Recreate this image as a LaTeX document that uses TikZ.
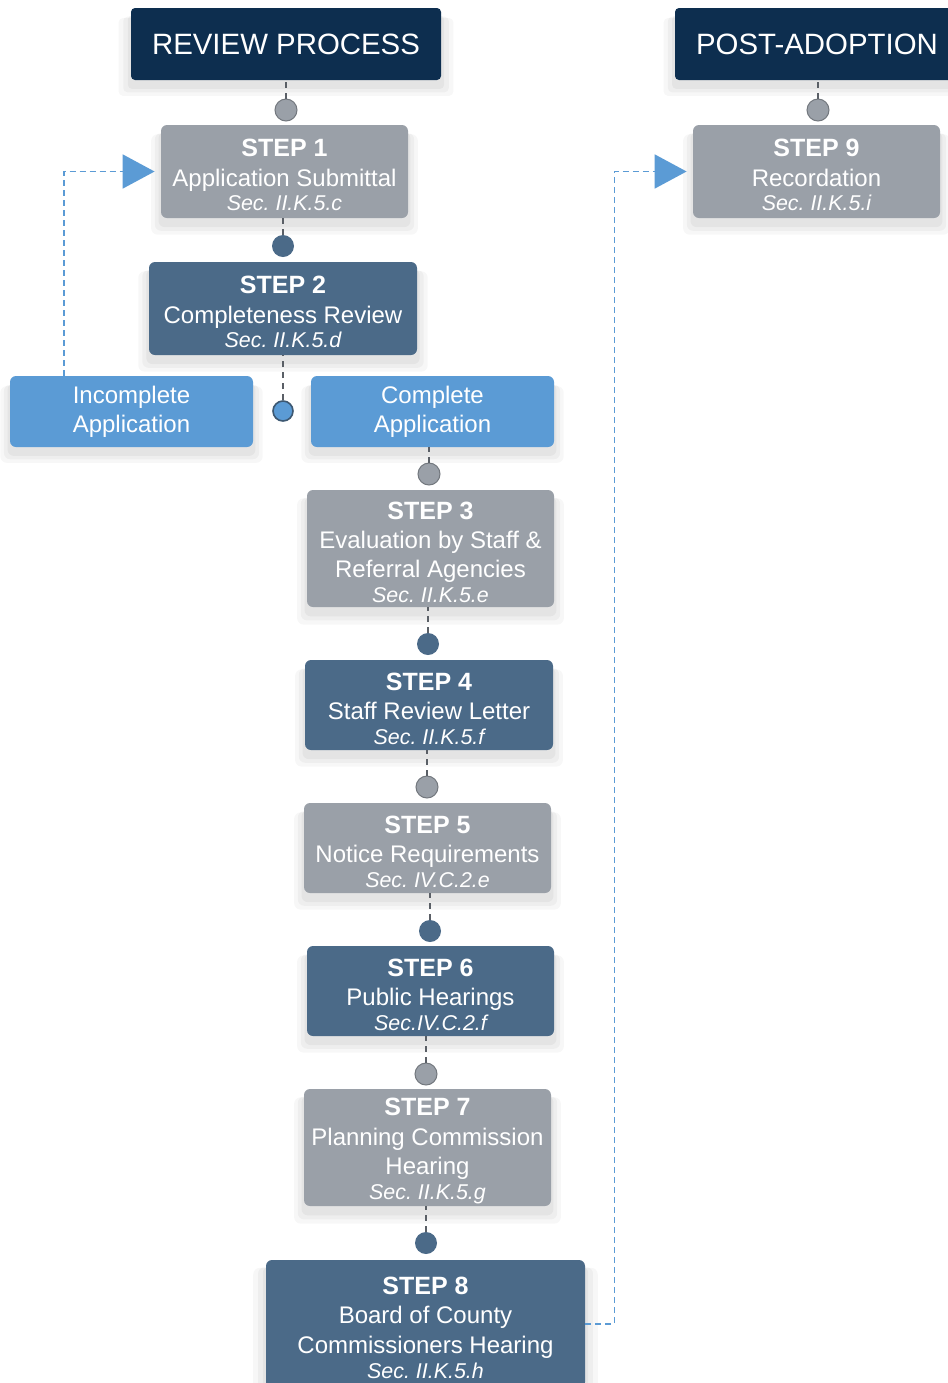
\documentclass[tikz,border=0pt]{standalone}
\usepackage{fontspec}
\setmainfont{Liberation Sans}
\usetikzlibrary{arrows.meta,calc,shadows}
\definecolor{headnavy}{HTML}{0D2E4F}
\definecolor{stepgrey}{HTML}{9AA0A8}
\definecolor{stepdark}{HTML}{4B6A88}
\definecolor{appblue}{HTML}{5B9BD5}
\definecolor{linkgrey}{HTML}{5A5F66}
\newcommand{\steptext}[3]{{\fontsize{12.5}{14.7}\selectfont\bfseries\rule{0pt}{12.4pt}STEP #1}\\#2\\[-2.3pt]{\fontsize{10.7}{12}\selectfont\itshape #3}}
\tikzset{
  box/.style={rectangle, rounded corners=3pt, text=white, align=center, inner sep=0pt,
    font=\fontsize{12}{14.7}\selectfont\frenchspacing,
    general shadow={fill=black, opacity=0.03, shadow xshift=0pt, shadow yshift=-6pt, shadow scale=1.08},
    general shadow={fill=black, opacity=0.035, shadow xshift=0pt, shadow yshift=-5pt, shadow scale=1.05},
    general shadow={fill=black, opacity=0.04, shadow xshift=0pt, shadow yshift=-4pt, shadow scale=1.02}},
  greybox/.style={box, fill=stepgrey},
  darkbox/.style={box, fill=stepdark},
  bluebox/.style={box, fill=appblue},
  headbox/.style={box, fill=headnavy, rounded corners=2pt, minimum height=36pt,
    font=\fontsize{14.7}{17}\selectfont},
  stepdot/.style={circle, minimum size=11pt, inner sep=0pt},
  greydot/.style={stepdot, fill=stepgrey, draw=stepgrey!75!black, line width=0.5pt},
  darkdot/.style={stepdot, fill=stepdark},
  bluedot/.style={stepdot, minimum size=10pt, fill=appblue, draw=headnavy!80, line width=0.8pt},
  dashlink/.style={draw=linkgrey, line width=0.9pt, dash pattern=on 3pt off 2.5pt},
  backlink/.style={draw=appblue, line width=0.9pt, dash pattern=on 3pt off 2pt,
    -{Triangle[length=16pt,width=17pt]}, shorten >=3pt}
}
\begin{document}
\begin{tikzpicture}[x=0.5pt, y=-0.5pt]
  \useasboundingbox[fill=white] (0,0) rectangle (948,1383);

  %%%%% HEADERS %%%%%
  \node[headbox, minimum width=155pt] (rev) at (286,44) {REVIEW PROCESS};
  \node[headbox, minimum width=142pt] (post) at (817,44) {POST-ADOPTION};

  %%%%% STEPS %%%%%
  \node[greybox, minimum width=123.5pt, minimum height=46.5pt] (s1) at (284.5,171.5)
    {\steptext{1}{Application Submittal}{Sec. II.K.5.c}};
  \node[darkbox, minimum width=134pt, minimum height=46.5pt] (s2) at (283,308.5)
    {\steptext{2}{Completeness Review}{Sec. II.K.5.d}};
  \node[bluebox, minimum width=121.5pt, minimum height=35.5pt] (inc) at (131.5,411.5)
    {Incomplete\\Application};
  \node[bluebox, minimum width=121.5pt, minimum height=35.5pt] (com) at (432.5,411.5)
    {Complete\\Application};
  \node[greybox, minimum width=123.5pt, minimum height=58.5pt] (s3) at (430.5,548.5)
    {\steptext{3}{Evaluation by Staff \&\\Referral Agencies}{Sec. II.K.5.e}};
  \node[darkbox, minimum width=124pt, minimum height=45pt] (s4) at (429,705)
    {\steptext{4}{Staff Review Letter}{Sec. II.K.5.f}};
  \node[greybox, minimum width=123.5pt, minimum height=45pt] (s5) at (427.5,848)
    {\steptext{5}{Notice Requirements}{Sec. IV.C.2.e}};
  \node[darkbox, minimum width=123.5pt, minimum height=45pt] (s6) at (430.5,991)
    {\steptext{6}{Public Hearings}{Sec.IV.C.2.f}};
  \node[greybox, minimum width=123.5pt, minimum height=58.5pt] (s7) at (427.5,1147.5)
    {\steptext{7}{Planning Commission\\Hearing}{Sec. II.K.5.g}};
  \node[darkbox, minimum width=159.5pt, minimum height=64pt] (s8) at (425.5,1324)
    {\steptext{8}{Board of County\\Commissioners Hearing}{Sec. II.K.5.h}};
  \node[greybox, minimum width=123.5pt, minimum height=46.5pt] (s9) at (816.5,171.5)
    {\steptext{9}{Recordation}{Sec. II.K.5.i}};

  %%%%% DOTS %%%%%
  \node[greydot] (d1) at (286,110) {};
  \node[darkdot] (d2) at (283,246) {};
  \node[bluedot] (db) at (283,411) {};
  \node[greydot] (d3) at (429,474) {};
  \node[darkdot] (d4) at (428,644) {};
  \node[greydot] (d5) at (427,787) {};
  \node[darkdot] (d6) at (430,931) {};
  \node[greydot] (d7) at (426,1074) {};
  \node[darkdot] (d8) at (426,1243) {};
  \node[greydot] (d9) at (818,110) {};

  %%%%% CONNECTORS %%%%%
  \draw[dashlink] (d1) -- (d1 |- rev.south);
  \draw[dashlink] (d2) -- (d2 |- s1.south);
  \draw[dashlink] (db) -- (db |- s2.south);
  \draw[dashlink] (d3) -- (d3 |- com.south);
  \draw[dashlink] (d4) -- (d4 |- s3.south);
  \draw[dashlink] (d5) -- (d5 |- s4.south);
  \draw[dashlink] (d6) -- (d6 |- s5.south);
  \draw[dashlink] (d7) -- (d7 |- s6.south);
  \draw[dashlink] (d8) -- (d8 |- s7.south);
  \draw[dashlink] (d9) -- (d9 |- post.south);

  \coordinate (incout) at ($(inc.north west)!0.222!(inc.north east)$);
  \draw[backlink] (incout) |- (s1.west);
  \draw[backlink] (s8.east) -- ++(29,0) |- (s9.west);
\end{tikzpicture}
\end{document}
